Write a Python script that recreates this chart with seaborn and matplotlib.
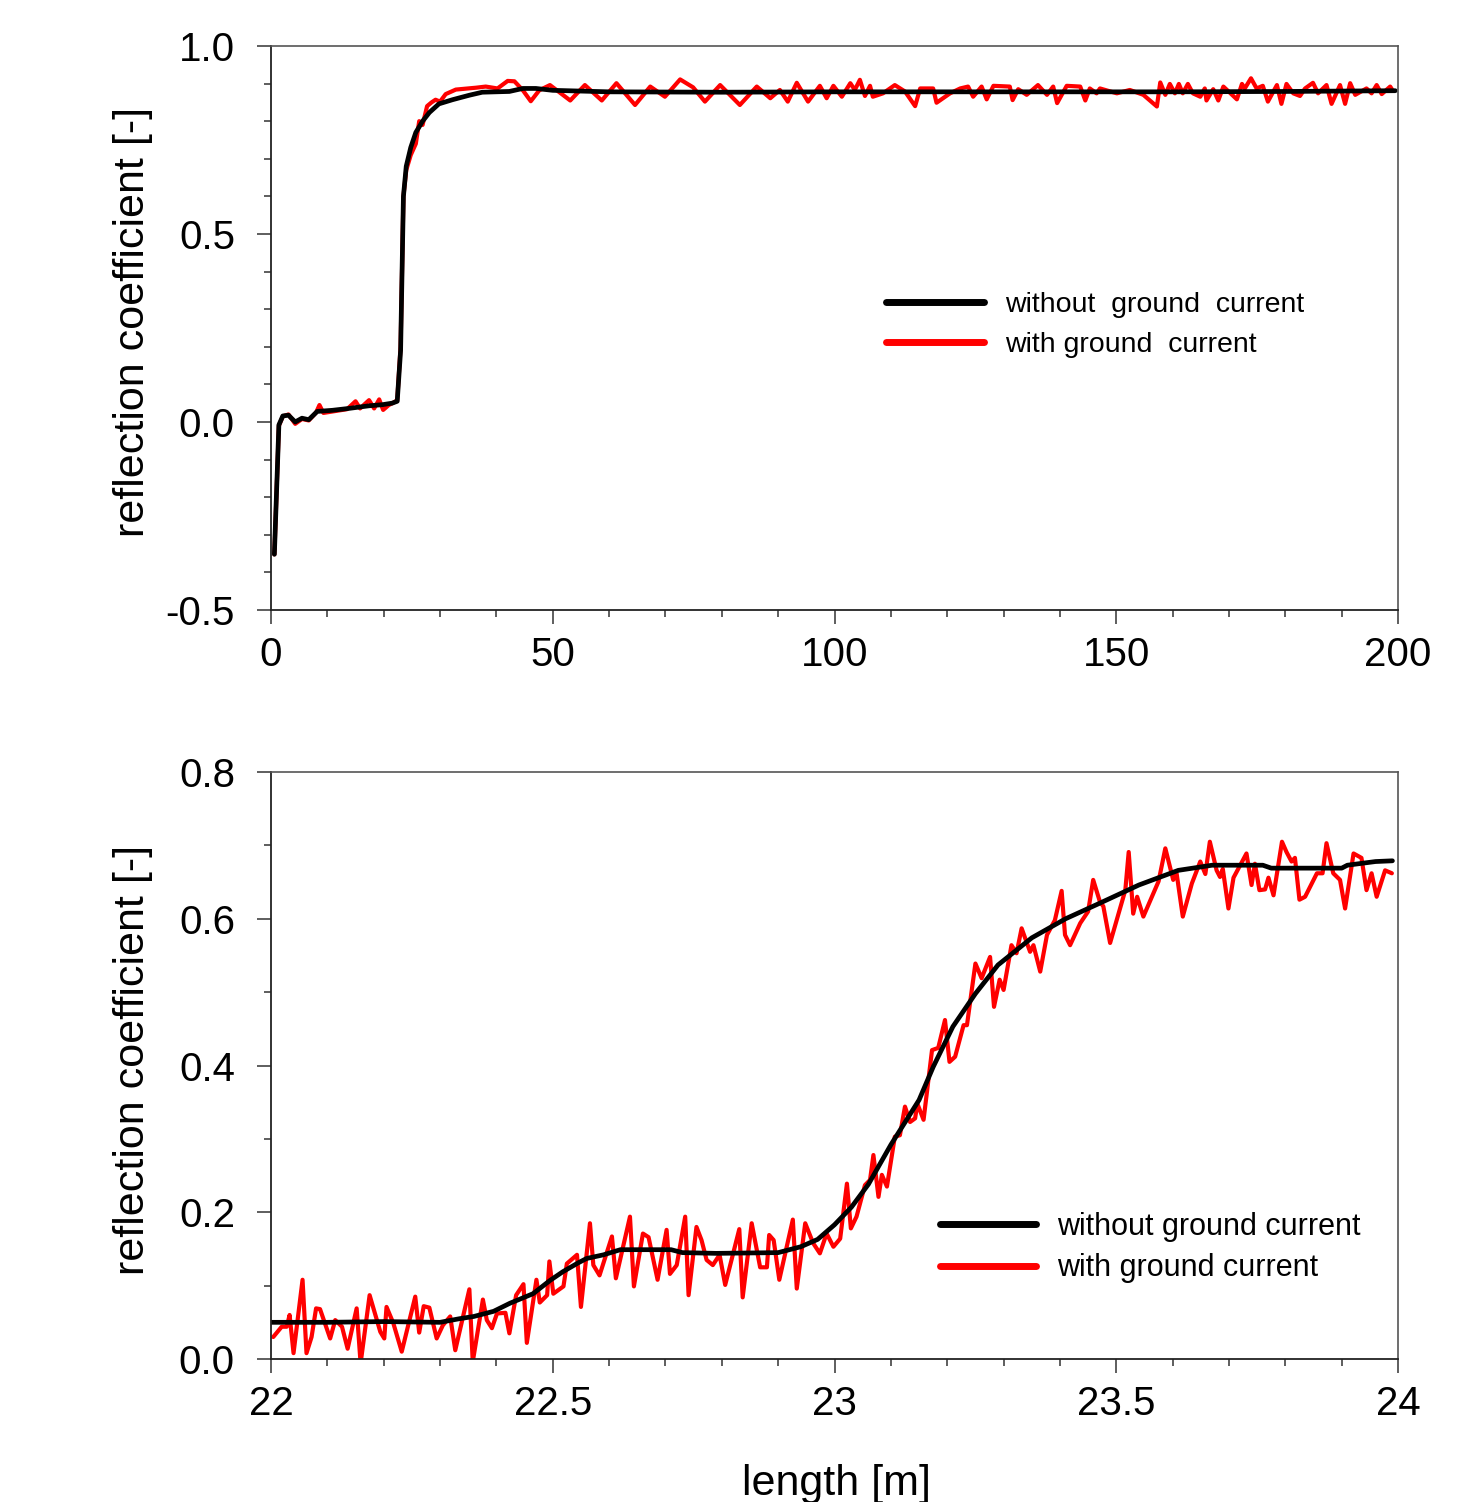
"""reflection coefficient vs length, with / without ground current"""
import matplotlib
matplotlib.use("Agg")
import matplotlib.pyplot as plt
from matplotlib.ticker import MultipleLocator, FuncFormatter
import pandas as pd
import seaborn as sns

# top panel: black = without ground current, red = with ground current
top_len_black = [0.6, 1.4, 2.1, 3.1, 4.3, 5.5, 6.7, 8.2, 10.9, 13.8, 17.4, 19.8, 21.5, 22.4,
                 23.0, 23.5, 24.0, 24.8, 25.7, 26.9, 28.1, 29.8, 32.2, 35.2, 37.5, 42.3, 44.7,
                 47.0, 50.0, 60.0, 80.0, 100.0, 120.0, 140.0, 160.0, 180.0, 199.5]
top_refl_black = [-0.352, -0.008, 0.016, 0.018, 0.0, 0.010, 0.006, 0.028, 0.031, 0.036, 0.043,
                  0.046, 0.050, 0.055, 0.19, 0.60, 0.68, 0.73, 0.77, 0.80, 0.823, 0.846, 0.857,
                  0.869, 0.877, 0.879, 0.887, 0.887, 0.882, 0.878, 0.877, 0.878, 0.878, 0.878,
                  0.878, 0.879, 0.881]

top_len_red = [0.6, 1.4, 2.1, 3.1, 4.3, 5.5, 6.7, 8.0, 8.6, 9.3, 11.0, 13.5, 15.0, 15.8, 17.4,
               18.3, 19.2, 19.9, 20.9, 21.8, 22.4, 23.0, 23.5, 24.0, 24.8, 25.7, 26.3, 26.9,
               27.7, 28.5, 29.2, 30.0, 31.0, 32.8, 36.4, 38.1, 40.2, 42.0, 43.2, 44.7, 46.1,
               47.6, 49.5, 53.1, 55.7, 58.7, 61.3, 64.6, 67.3, 69.9, 72.6, 74.9, 77.0, 79.7,
               83.2, 86.2, 88.6, 90.3, 91.7, 93.3, 95.3, 97.4, 98.6, 99.8, 101.3, 102.8, 103.6,
               104.5, 105.4, 106.3, 106.8, 108.6, 110.7, 112.5, 114.3, 115.2, 117.5, 118.1,
               120.5, 122.3, 123.7, 124.6, 126.1, 127.0, 128.2, 131.1, 131.6, 132.6, 134.1,
               136.1, 137.7, 138.8, 139.5, 141.2, 143.6, 144.5, 145.3, 146.5, 147.1, 150.1,
               152.4, 154.8, 157.2, 157.8, 158.7, 159.5, 160.4, 161.1, 161.8, 162.7, 163.6,
               164.9, 165.7, 166.0, 167.2, 168.1, 169.0, 171.4, 172.3, 172.8, 173.9, 174.9,
               176.0, 176.9, 178.5, 179.3, 180.2, 181.4, 182.6, 183.5, 184.9, 185.8, 187.3,
               188.2, 189.7, 190.6, 191.5, 192.4, 194.4, 195.3, 196.2, 197.1, 198.6, 198.9]
top_refl_red = [-0.352, -0.010, 0.015, 0.020, -0.005, 0.008, 0.004, 0.025, 0.045, 0.024, 0.028,
                0.034, 0.055, 0.036, 0.058, 0.036, 0.060, 0.032, 0.045, 0.052, 0.058, 0.20,
                0.60, 0.67, 0.71, 0.74, 0.80, 0.79, 0.84, 0.850, 0.857, 0.852, 0.872, 0.884,
                0.889, 0.892, 0.887, 0.907, 0.906, 0.882, 0.853, 0.882, 0.896, 0.855, 0.896,
                0.855, 0.901, 0.843, 0.892, 0.865, 0.911, 0.890, 0.852, 0.896, 0.843, 0.892,
                0.861, 0.883, 0.852, 0.902, 0.852, 0.894, 0.861, 0.894, 0.865, 0.901, 0.883,
                0.910, 0.867, 0.894, 0.865, 0.874, 0.896, 0.879, 0.840, 0.887, 0.887, 0.849,
                0.874, 0.887, 0.892, 0.865, 0.892, 0.858, 0.894, 0.892, 0.856, 0.885, 0.870,
                0.896, 0.870, 0.892, 0.848, 0.894, 0.892, 0.855, 0.887, 0.874, 0.887, 0.874,
                0.883, 0.870, 0.839, 0.903, 0.870, 0.899, 0.874, 0.899, 0.874, 0.899, 0.874,
                0.865, 0.887, 0.855, 0.885, 0.855, 0.892, 0.858, 0.899, 0.887, 0.914, 0.887,
                0.894, 0.852, 0.896, 0.846, 0.899, 0.874, 0.867, 0.887, 0.902, 0.874, 0.896,
                0.846, 0.896, 0.846, 0.901, 0.870, 0.887, 0.874, 0.896, 0.872, 0.892, 0.885]

# bottom panel: zoom on the step between 22 m and 24 m
bot_len_black = [22.00, 22.10, 22.20, 22.30, 22.335, 22.36, 22.395, 22.424, 22.465, 22.495,
                 22.518, 22.545, 22.56, 22.59, 22.62, 22.71, 22.73, 22.79, 22.90, 22.94, 22.97,
                 23.00, 23.03, 23.06, 23.10, 23.15, 23.175, 23.21, 23.25, 23.29, 23.35, 23.41,
                 23.47, 23.54, 23.61, 23.67, 23.76, 23.775, 23.90, 23.91, 23.96, 23.99]
bot_refl_black = [0.050, 0.050, 0.051, 0.050, 0.055, 0.058, 0.065, 0.076, 0.089, 0.107, 0.119,
                  0.131, 0.137, 0.142, 0.149, 0.149, 0.145, 0.144, 0.145, 0.153, 0.163, 0.183,
                  0.207, 0.238, 0.292, 0.353, 0.398, 0.453, 0.498, 0.537, 0.574, 0.600, 0.621,
                  0.646, 0.666, 0.673, 0.673, 0.669, 0.669, 0.673, 0.678, 0.679]

bot_len_red = [22.004, 22.019, 22.028, 22.033, 22.040, 22.056, 22.063, 22.072, 22.080, 22.087,
               22.105, 22.114, 22.126, 22.136, 22.152, 22.159, 22.175, 22.194, 22.201, 22.205,
               22.217, 22.232, 22.256, 22.263, 22.271, 22.281, 22.294, 22.305, 22.318, 22.327,
               22.352, 22.358, 22.376, 22.383, 22.392, 22.401, 22.416, 22.423, 22.435, 22.448,
               22.454, 22.471, 22.477, 22.490, 22.494, 22.501, 22.519, 22.525, 22.543, 22.550,
               22.566, 22.572, 22.583, 22.605, 22.612, 22.637, 22.644, 22.660, 22.670, 22.686,
               22.702, 22.708, 22.720, 22.735, 22.741, 22.755, 22.764, 22.773, 22.784, 22.796,
               22.806, 22.831, 22.837, 22.853, 22.868, 22.880, 22.884, 22.892, 22.902, 22.926,
               22.933, 22.948, 22.962, 22.974, 22.986, 22.998, 23.010, 23.022, 23.029, 23.039,
               23.054, 23.063, 23.069, 23.078, 23.084, 23.093, 23.107, 23.116, 23.125, 23.134,
               23.143, 23.147, 23.158, 23.173, 23.184, 23.196, 23.204, 23.214, 23.229, 23.235,
               23.250, 23.261, 23.276, 23.283, 23.293, 23.300, 23.314, 23.323, 23.332, 23.347,
               23.353, 23.365, 23.377, 23.391, 23.403, 23.409, 23.418, 23.436, 23.450, 23.459,
               23.471, 23.477, 23.489, 23.504, 23.516, 23.522, 23.530, 23.537, 23.548, 23.566,
               23.575, 23.587, 23.601, 23.607, 23.618, 23.634, 23.649, 23.658, 23.666, 23.678,
               23.684, 23.689, 23.699, 23.708, 23.731, 23.740, 23.746, 23.754, 23.764, 23.770,
               23.779, 23.794, 23.802, 23.811, 23.817, 23.825, 23.835, 23.856, 23.866, 23.873,
               23.885, 23.897, 23.906, 23.921, 23.935, 23.944, 23.953, 23.962, 23.977, 23.989]
bot_refl_red = [0.030, 0.044, 0.044, 0.060, 0.008, 0.108, 0.008, 0.030, 0.069, 0.068,
                0.028, 0.053, 0.044, 0.014, 0.069, -0.006, 0.087, 0.037, 0.028, 0.071,
                0.049, 0.010, 0.085, 0.036, 0.072, 0.070, 0.028, 0.046, 0.058, 0.012,
                0.095, -0.004, 0.081, 0.053, 0.042, 0.062, 0.063, 0.035, 0.087, 0.102,
                0.022, 0.108, 0.077, 0.087, 0.133, 0.089, 0.099, 0.130, 0.142, 0.071,
                0.185, 0.128, 0.114, 0.167, 0.110, 0.194, 0.099, 0.171, 0.166, 0.108,
                0.176, 0.116, 0.128, 0.194, 0.087, 0.180, 0.162, 0.135, 0.128, 0.142,
                0.101, 0.177, 0.084, 0.185, 0.125, 0.125, 0.169, 0.162, 0.108, 0.190,
                0.096, 0.185, 0.158, 0.144, 0.171, 0.153, 0.164, 0.239, 0.178, 0.194,
                0.237, 0.244, 0.278, 0.221, 0.251, 0.235, 0.303, 0.305, 0.344, 0.323,
                0.328, 0.348, 0.326, 0.421, 0.424, 0.462, 0.405, 0.412, 0.455, 0.455,
                0.539, 0.519, 0.548, 0.480, 0.517, 0.503, 0.564, 0.553, 0.587, 0.555,
                0.564, 0.528, 0.578, 0.598, 0.638, 0.578, 0.564, 0.594, 0.610, 0.653,
                0.623, 0.617, 0.567, 0.607, 0.639, 0.691, 0.607, 0.630, 0.603, 0.635,
                0.651, 0.696, 0.653, 0.662, 0.603, 0.648, 0.678, 0.661, 0.705, 0.666,
                0.657, 0.668, 0.614, 0.656, 0.689, 0.646, 0.675, 0.639, 0.640, 0.656,
                0.632, 0.705, 0.691, 0.678, 0.683, 0.626, 0.630, 0.662, 0.662, 0.703,
                0.662, 0.653, 0.614, 0.689, 0.683, 0.639, 0.662, 0.630, 0.666, 0.662]

sns.set_theme(style="ticks")
plt.rcParams["font.family"] = ["Liberation Sans", "DejaVu Sans"]
plt.rcParams["axes.unicode_minus"] = False
plt.rcParams["text.color"] = "black"
plt.rcParams["axes.labelcolor"] = "black"
plt.rcParams["xtick.labelcolor"] = "black"
plt.rcParams["ytick.labelcolor"] = "black"

fig = plt.figure(figsize=(14.76, 15.02), dpi=100)
ax_top = fig.add_axes([0.1836, 0.5939, 0.7636, 0.3755])
ax_bot = fig.add_axes([0.1836, 0.0952, 0.7636, 0.3908])


def draw(ax, x_red, y_red, x_black, y_black):
    red = pd.DataFrame({"length": x_red, "refl": y_red})
    black = pd.DataFrame({"length": x_black, "refl": y_black})
    sns.lineplot(data=red, x="length", y="refl", ax=ax, color="#ff0000",
                 linewidth=3.0, estimator=None, sort=False)
    sns.lineplot(data=black, x="length", y="refl", ax=ax, color="black",
                 linewidth=3.4, estimator=None, sort=False)
    for side in ["left", "bottom"]:
        ax.spines[side].set_color("#222222")
        ax.spines[side].set_linewidth(1.3)
    for side in ["top", "right"]:
        ax.spines[side].set_color("#555555")
        ax.spines[side].set_linewidth(1.2)
    ax.tick_params(which="major", length=10, width=1.1, labelsize=29, color="#333333")
    ax.tick_params(which="minor", length=5, width=1.1, color="#333333")
    ax.tick_params(axis="x", pad=9)
    ax.tick_params(axis="y", pad=16)
    ax.set_ylabel("reflection coefficient [-]", fontsize=31, color="black")
    ax.yaxis.label.set_verticalalignment("center")
    ax.yaxis.set_label_coords(-0.122, 0.51)
    ax.set_xlabel("")


draw(ax_top, top_len_red, top_refl_red, top_len_black, top_refl_black)
ax_top.set_xlim(0, 200)
ax_top.set_ylim(-0.5, 1.0)
ax_top.xaxis.set_major_locator(MultipleLocator(50))
ax_top.xaxis.set_minor_locator(MultipleLocator(10))
ax_top.yaxis.set_major_locator(MultipleLocator(0.5))
ax_top.yaxis.set_minor_locator(MultipleLocator(0.1))
ax_top.yaxis.set_major_formatter(FuncFormatter(lambda v, p: f"{v:.1f}"))
ax_top.xaxis.set_major_formatter(FuncFormatter(lambda v, p: f"{v:g}"))

draw(ax_bot, bot_len_red, bot_refl_red, bot_len_black, bot_refl_black)
ax_bot.set_xlim(22, 24)
ax_bot.set_ylim(0, 0.8)
ax_bot.xaxis.set_major_locator(MultipleLocator(0.5))
ax_bot.xaxis.set_minor_locator(MultipleLocator(0.1))
ax_bot.yaxis.set_major_locator(MultipleLocator(0.2))
ax_bot.yaxis.set_minor_locator(MultipleLocator(0.1))
ax_bot.yaxis.set_major_formatter(FuncFormatter(lambda v, p: f"{v:.1f}"))
ax_bot.xaxis.set_major_formatter(FuncFormatter(lambda v, p: f"{v:g}"))
ax_bot.set_xlabel("length [m]", fontsize=31, color="black")
ax_bot.xaxis.label.set_verticalalignment("center")
ax_bot.xaxis.set_label_coords(0.502, -0.213)

# legends
h_black = plt.Line2D([], [], color="black", linewidth=5)
h_red = plt.Line2D([], [], color="#ff0000", linewidth=5)
ax_top.legend([h_black, h_red], ["without  ground  current", "with ground  current"],
              loc="center left", bbox_to_anchor=(0.5457, 0.505), frameon=False,
              fontsize=20.5, handlelength=3.45, handletextpad=0.72, labelspacing=0.5,
              borderpad=0, borderaxespad=0, labelcolor="black")
ax_bot.legend([h_black, h_red], ["without ground current", "with ground current"],
              loc="center left", bbox_to_anchor=(0.5936, 0.190), frameon=False,
              fontsize=22, handlelength=3.15, handletextpad=0.69, labelspacing=0.38,
              borderpad=0, borderaxespad=0, labelcolor="black")

fig.savefig("out.png", dpi=100)
